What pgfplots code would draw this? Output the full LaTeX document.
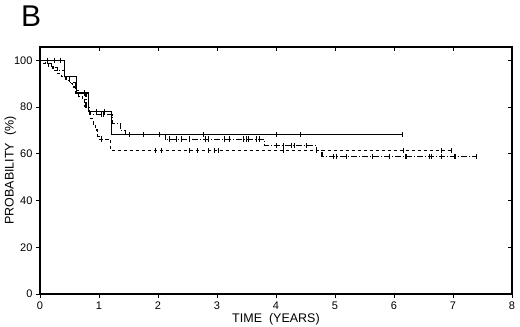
\documentclass[border=0pt]{standalone}
\usepackage{fontspec}
\setmainfont{Liberation Sans}
\usepackage{pgfplots}
\pgfplotsset{compat=1.18}

\begin{document}
\begin{tikzpicture}
\path[use as bounding box] (0pt,0pt) rectangle (520pt,327pt);
\node[font=\fontsize{30}{30}\selectfont, anchor=base west, inner sep=0pt] at (21pt,300pt) {B};

% ticks on the right and top, pointing inwards
\begin{axis}[at={(40pt,33pt)}, anchor=south west, scale only axis,
  width=472pt, height=247pt,
  xmin=0, xmax=8, ymin=0, ymax=105.7,
  xtick={0,...,8}, ytick={0,20,...,100},
  xtick pos=right, ytick pos=right, tick align=inside,
  xticklabels={}, yticklabels={},
  major tick length=4pt, axis line style={draw=none},
  tick style={black, line width=0.8pt},
]
\end{axis}

\begin{axis}[at={(40pt,33pt)}, anchor=south west, scale only axis,
  width=472pt, height=247pt,
  xmin=0, xmax=8, ymin=0, ymax=105.7,
  xtick={0,...,8}, ytick={0,20,...,100},
  xtick pos=left, ytick pos=left, tick align=outside,
  major tick length=4pt,
  axis line style={line width=1.3pt},
  tick style={black, line width=0.8pt},
  /pgf/number format/assume math mode=true,
  ticklabel style={font=\fontsize{11}{12}\selectfont},
  xlabel={TIME\ \ (YEARS)}, ylabel={PROBABILITY\ \ (\%)},
  label style={font=\fontsize{12.5}{14}\selectfont},
  xlabel style={yshift=3pt},
  ylabel style={yshift=-9pt},
  censor/.style={only marks, mark=|, mark size=2.6pt, mark options={solid, line width=1pt}},
]
% solid curve
\addplot[const plot, black, line width=1.2pt] coordinates {
(0,100)(0.42,93.1)(0.62,86)(0.82,78)(1.21,68.3)(6.15,68.3)};
\addplot[censor] coordinates {
(0.13,100)(0.25,100)(0.35,100)(0.76,86)(0.96,78)(1.10,78)
(1.51,68.3)(1.75,68.3)(2.02,68.3)(2.77,68.3)(4.00,68.3)(4.42,68.3)(6.15,68.3)};

% dashed curve
\addplot[const plot, black, line width=1.1pt, dash pattern=on 3.5pt off 2.5pt] coordinates {
(0,100)(0.06,98.6)(0.14,97.2)(0.22,95.8)(0.30,94.3)(0.36,92.9)(0.44,91.4)(0.50,90)
(0.55,88.6)(0.60,87.1)(0.66,84.6)(0.72,83)(0.76,80.3)(0.82,78)(0.86,75)(0.90,72.5)
(0.94,70.2)(0.98,67.5)(1.00,66.3)(1.20,61.3)(6.98,61.3)};
\addplot[censor] coordinates {
(1.05,66.3)(1.95,61.3)(2.06,61.3)(2.54,61.3)(2.67,61.3)(2.86,61.3)(2.95,61.3)(3.03,61.3)
(4.12,61.3)(4.69,61.3)(6.16,61.3)(6.81,61.3)(6.98,61.3)};

% dash-dot curve
\addplot[const plot, black, line width=1.1pt, dash pattern=on 6pt off 2pt on 1pt off 2pt] coordinates {
(0,100)(0.10,98.5)(0.20,97)(0.30,95.5)(0.42,93)(0.50,90.5)(0.60,86)(0.78,80)(0.84,76.7)
(1.22,73)(1.36,70)(1.45,68.3)(2.12,66.3)(3.81,63.6)(4.68,61.3)(4.78,58.9)(7.40,58.9)};
\addplot[censor] coordinates {
(1.05,76.7)(1.08,76.7)
(2.20,66.3)(2.32,66.3)(2.40,66.3)(2.53,66.3)(2.80,66.3)(2.85,66.3)(3.12,66.3)(3.22,66.3)
(3.45,66.3)(3.50,66.3)(3.53,66.3)(3.67,66.3)(3.72,66.3)
(4.01,63.6)(4.12,63.6)(4.27,63.6)(4.32,63.6)(4.52,63.6)
(4.97,58.9)(5.03,58.9)(5.20,58.9)(5.64,58.9)(5.93,58.9)(6.19,58.9)(6.22,58.9)(6.61,58.9)
(6.64,58.9)(6.81,58.9)(7.03,58.9)(7.05,58.9)(7.40,58.9)};
\end{axis}
\end{tikzpicture}
\end{document}
